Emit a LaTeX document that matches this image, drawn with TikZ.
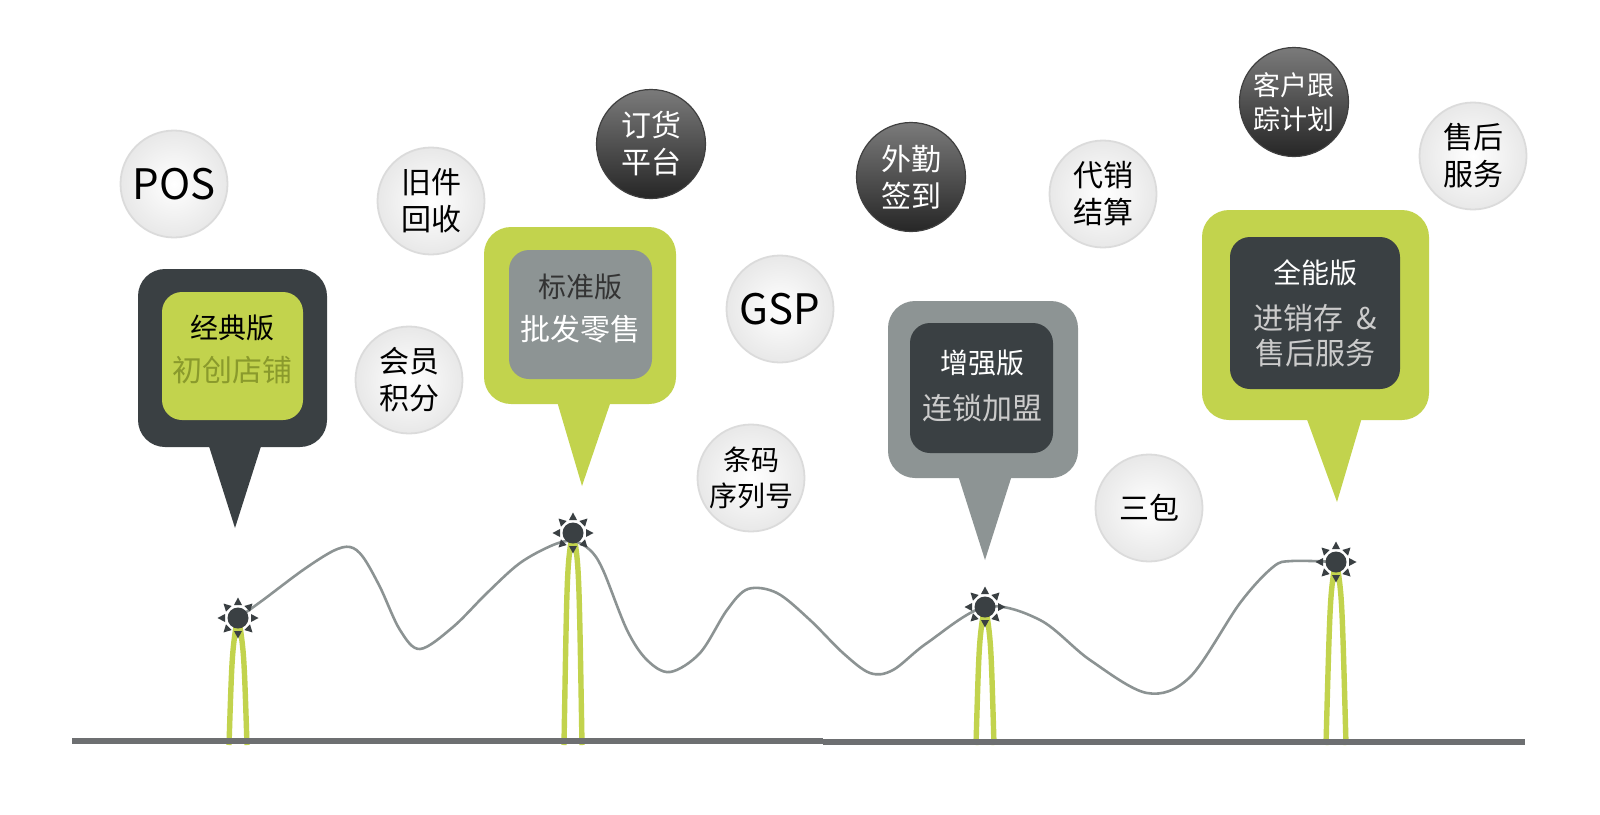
\documentclass[tikz,border=0pt]{standalone}
\usepackage{fontspec}
\setmainfont{Noto Sans CJK SC}
\usetikzlibrary{calc}
\definecolor{dark}{HTML}{3A4043}
\definecolor{lime}{HTML}{C2D34D}
\definecolor{pingray}{HTML}{8D9494}
\definecolor{olivetext}{HTML}{8A9A2C}
\definecolor{groundc}{HTML}{6D6F71}
\definecolor{wavec}{HTML}{8C9393}
\definecolor{softgray}{HTML}{CBCBCB}
\definecolor{titledark}{HTML}{333333}
\begin{document}
\begin{tikzpicture}[x=0.5pt,y=-0.5pt,
  lightbubble/.style={circle, minimum size=53.5pt, inner sep=0pt, inner color=white, outer color=black!9, draw=black!14, line width=0.9pt, align=center, text=black, font=\fontsize{15}{18.5}\selectfont},
  darkbubble/.style={circle, minimum size=54.5pt, inner sep=0pt, top color=black!52, bottom color=black!85, draw=black!75, line width=0.6pt, align=center, text=white, font=\fontsize{15}{18.5}\selectfont},
  bigtxt/.style={font=\fontsize{21}{21}\selectfont},
  titletxt/.style={font=\fontsize{14}{14}\selectfont, inner sep=0pt},
  subtxt/.style={font=\fontsize{15}{17.5}\selectfont, inner sep=0pt, align=center},
  archline/.style={draw=lime, line width=2.7pt},
  wave/.style={draw=wavec, line width=1.3pt},
  sunmark/.pic={
    \fill[dark] (0,0) circle (10.5);
    \foreach \a in {0,45,...,315}{\fill[dark,rotate=\a] (13,-4) -- (20.5,0) -- (13,4) -- cycle;}
  }
]
\useasboundingbox (0,0) rectangle (1600,814);

% star positions
\coordinate (st1) at (238,618);
\coordinate (st2) at (573,533);
\coordinate (st3) at (985,607);
\coordinate (st4) at (1336,562);

% ground
\coordinate (g1) at (72,741);
\coordinate (g2) at (823,741);
\coordinate (g3) at (823,742);
\coordinate (g4) at (1525,742);

% green arches
\foreach \s/\l/\r in {st1/229/247, st2/564/582, st3/976/994, st4/1326/1346}{
  \draw[archline] ($(\s)+(-1,2)$) .. controls ($(\s)+(-6,35)$) .. (\l,745);
  \draw[archline] ($(\s)+(1,2)$) .. controls ($(\s)+(6,35)$) .. (\r,745);
}

% ground line
\draw[groundc, line width=3pt] (g1) -- (g2);
\draw[groundc, line width=2.6pt] (g3) -- (g4);

% wave
\draw[wave] plot[smooth, tension=0.55] coordinates {
 (st1) (263,600) (303,570) (333,551) (350,547) (363,557) (380,587) (400,630) (420,649)
 (453,627) (487,593) (520,563) (553,545) (573,541) (590,550) (603,570) (627,630) (647,660) (670,672)
 (700,653) (727,610) (748,589) (777,593) (810,620) (843,653) (870,673) (893,670) (927,643) (st3)
 (1040,620) (1090,660) (1147,693) (1190,677) (1240,603) (1273,567) (1292,561) (st4)};

% suns
\foreach \s in {st1,st2,st3,st4}{ \pic at (\s) {sunmark}; }

% pin 1 (dark, classic)
\fill[dark, rounded corners=13.5pt] (138,269) rectangle (327,447);
\fill[dark] (207,440) -- (263,440) -- (235,528) -- cycle;
\fill[lime, rounded corners=10pt] (162,292) rectangle (303,420);
\node[titletxt, text=black] (p1t) at (232,328) {经典版};
\node[subtxt, text=olivetext] (p1s) at (232,370) {初创店铺};

% pin 2 (green, standard)
\fill[lime, rounded corners=13.5pt] (484,227) rectangle (676,404);
\fill[lime] (556,398) -- (612,398) -- (582,486) -- cycle;
\fill[pingray, rounded corners=10pt] (509,250) rectangle (652,379);
\node[titletxt, text=titledark] (p2t) at (580,287) {标准版};
\node[subtxt, text=white] (p2s) at (580,329) {批发零售};

% pin 3 (gray, enhanced)
\fill[pingray, rounded corners=13.5pt] (888,301) rectangle (1078,478);
\fill[pingray] (957,472) -- (1013,472) -- (985,560) -- cycle;
\fill[dark, rounded corners=10pt] (910,323) rectangle (1053,453);
\node[titletxt, text=white] (p3t) at (982,363) {增强版};
\node[subtxt, text=softgray] (p3s) at (982,408) {连锁加盟};

% pin 4 (green, all-in-one)
\fill[lime, rounded corners=13.5pt] (1202,210) rectangle (1429,420);
\fill[lime] (1305,414) -- (1363,414) -- (1337,502) -- cycle;
\fill[dark, rounded corners=10pt] (1230,237) rectangle (1400,389);
\node[titletxt, text=white] (p4t) at (1315,273) {全能版};
\node[subtxt, text=softgray] (p4s) at (1315,336) {进销存\hspace{0.45em}\&\\售后服务};

% bubbles
\node[lightbubble, bigtxt] (pos) at (174,184) {POS};
\node[lightbubble] (jjhs) at (431,201) {旧件\\回收};
\node[lightbubble] (hyjf) at (409,380) {会员\\积分};
\node[darkbubble] (dhpt) at (651,144) {订货\\平台};
\node[lightbubble, bigtxt] (gsp) at (780,309) {GSP};
\node[lightbubble, font=\fontsize{14}{18}\selectfont] (tmxl) at (751,478) {条码\\序列号};
\node[darkbubble] (wqqd) at (911,177) {外勤\\签到};
\node[lightbubble] (dxjs) at (1103,194) {代销\\结算};
\node[lightbubble] (sanbao) at (1149,508) {三包};
\node[darkbubble, font=\fontsize{13.5}{17}\selectfont] (khgz) at (1294,102) {客户跟\\踪计划};
\node[lightbubble] (shfw) at (1473,156) {售后\\服务};
\end{tikzpicture}
\end{document}
